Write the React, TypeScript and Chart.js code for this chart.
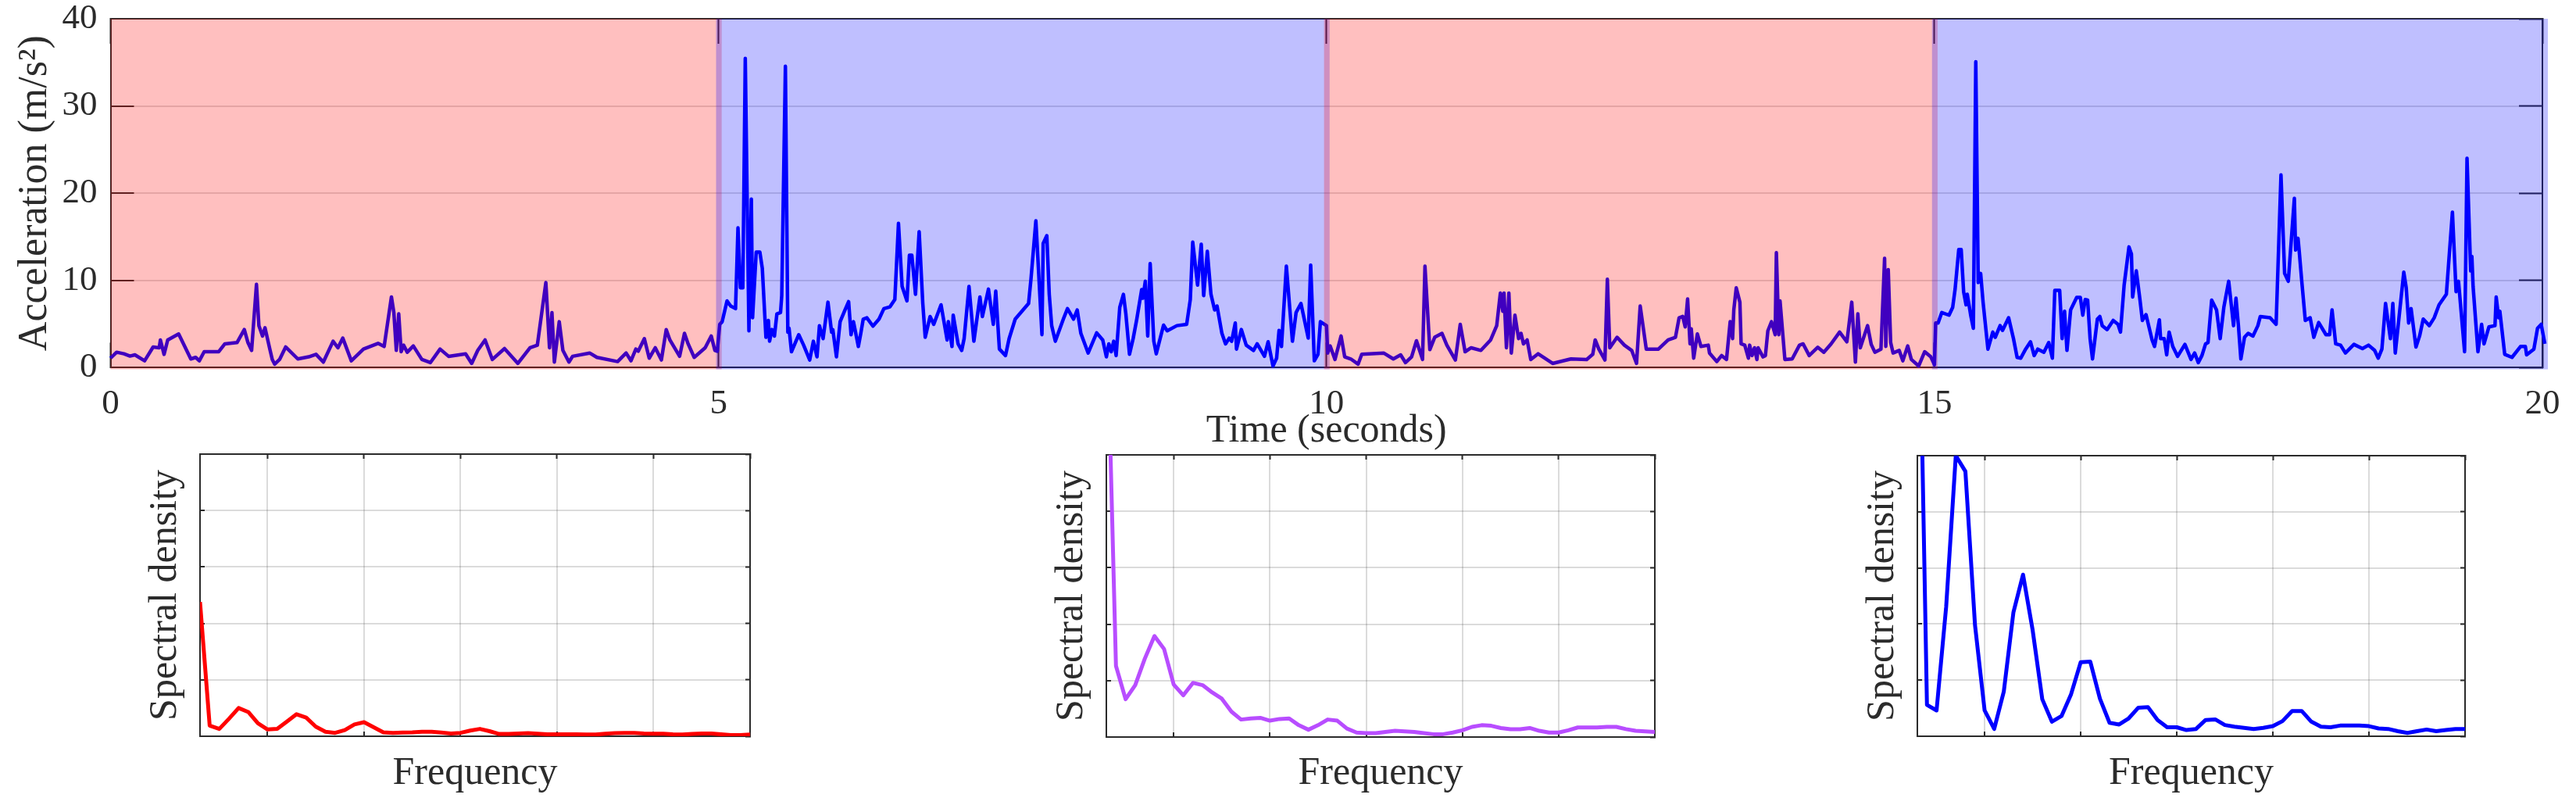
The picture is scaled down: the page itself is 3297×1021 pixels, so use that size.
// App.tsx - acceleration trace with spectral density panels
import React, { useEffect, useRef } from 'react';
import { Chart, registerables } from 'chart.js';

Chart.register(...registerables);

// acceleration trace, one pair of arrays per 5 s window
const time0to5 = [0, .05, .11, .16, .2, .28, .35, .4, .41, .44, .47, .56, .66, .7, .73, .77, .89, .94, 1.04, 1.1, 1.13, 1.16, 1.2, 1.22, 1.25, 1.27, 1.31, 1.33, 1.35, 1.39, 1.44, 1.54, 1.63, 1.69, 1.75, 1.83, 1.87, 1.91, 1.98, 2.08, 2.2, 2.25, 2.31, 2.33, 2.35, 2.37, 2.39, 2.41, 2.44, 2.49, 2.56, 2.63, 2.71, 2.78, 2.92, 2.97, 3.02, 3.08, 3.14, 3.24, 3.35, 3.45, 3.51, 3.58, 3.61, 3.63, 3.65, 3.69, 3.72, 3.77, 3.8, 3.94, 4, 4.17, 4.24, 4.28, 4.32, 4.34, 4.39, 4.43, 4.48, 4.53, 4.57, 4.6, 4.68, 4.72, 4.75, 4.8, 4.89, 4.94, 4.97, 4.99];
const accel0to5 = [1.08, 1.76, 1.58, 1.32, 1.46, .78, 2.36, 2.27, 3.17, 1.52, 3.17, 3.86, .99, 1.17, .78, 1.82, 1.82, 2.72, 2.87, 4.36, 2.87, 1.97, 9.54, 4.81, 3.62, 4.57, 2.12, .93, .39, .93, 2.36, .99, 1.23, 1.52, .63, 3.02, 2.27, 3.38, .78, 2.12, 2.78, 2.42, 8.1, 6.31, 1.97, 6.16, 1.82, 2.57, 1.76, 2.48, .93, .57, 2.12, 1.29, 1.58, .48, 1.97, 3.17, .93, 2.18, .48, 2.27, 2.57, 9.75, 2.27, 6.31, .63, 5.26, 1.97, .63, 1.29, 1.67, 1.17, .69, 1.67, .78, 2.12, 1.88, 3.32, 1.08, 2.27, .87, 4.36, 3.17, 1.29, 3.92, 2.72, 1.17, 2.27, 3.62, 1.97, 1.88];
const time5to10 = [5.01, 5.03, 5.07, 5.1, 5.14, 5.16, 5.18, 5.2, 5.22, 5.25, 5.27, 5.28, 5.31, 5.34, 5.36, 5.39, 5.41, 5.42, 5.44, 5.46, 5.48, 5.51, 5.52, 5.55, 5.57, 5.58, 5.6, 5.66, 5.7, 5.75, 5.78, 5.81, 5.83, 5.86, 5.9, 5.93, 5.94, 5.97, 6, 6.04, 6.07, 6.09, 6.11, 6.15, 6.17, 6.19, 6.22, 6.27, 6.32, 6.36, 6.41, 6.45, 6.48, 6.51, 6.55, 6.57, 6.59, 6.62, 6.65, 6.68, 6.7, 6.74, 6.77, 6.83, 6.88, 6.89, 6.92, 6.93, 6.97, 7, 7.02, 7.06, 7.1, 7.15, 7.17, 7.22, 7.26, 7.28, 7.31, 7.36, 7.39, 7.44, 7.55, 7.57, 7.61, 7.66, 7.67, 7.7, 7.72, 7.74, 7.77, 7.84, 7.87, 7.92, 7.95, 7.98, 8.04, 8.11, 8.16, 8.19, 8.21, 8.23, 8.25, 8.27, 8.3, 8.33, 8.35, 8.38, 8.41, 8.44, 8.48, 8.49, 8.51, 8.53, 8.55, 8.58, 8.6, 8.66, 8.69, 8.77, 8.85, 8.88, 8.9, 8.94, 8.97, 8.99, 9.02, 9.05, 9.08, 9.1, 9.14, 9.17, 9.2, 9.22, 9.25, 9.26, 9.3, 9.34, 9.4, 9.43, 9.49, 9.52, 9.56, 9.59, 9.61, 9.63, 9.67, 9.72, 9.75, 9.79, 9.85, 9.87, 9.9, 9.93, 9.95, 10];
const accel5to10 = [4.96, 5.26, 7.65, 7.06, 6.76, 16.02, 9.15, 9.15, 35.46, 4.22, 19.31, 5.71, 13.24, 13.24, 11.39, 3.47, 5.41, 3.02, 4.36, 3.62, 6.16, 6.31, 8.25, 34.56, 4.07, 4.51, 1.82, 3.77, 2.57, .87, 3.02, 1.23, 4.81, 3.32, 7.5, 4.07, 4.36, 1.23, 5.26, 6.61, 7.56, 3.77, 5.26, 2.42, 3.92, 5.56, 5.71, 4.75, 5.56, 6.76, 6.97, 7.8, 16.53, 9.3, 7.65, 12.88, 12.88, 8.4, 15.58, 7.35, 3.47, 5.86, 4.96, 7.2, 3.17, 5.26, 2.42, 6.01, 2.72, 1.97, 3.32, 9.3, 3.02, 8.1, 5.86, 9, 4.96, 8.76, 2.12, 1.38, 3.32, 5.56, 7.35, 10.19, 16.83, 3.77, 14.23, 15.13, 8.4, 4.81, 3.02, 5.71, 6.76, 5.56, 6.61, 3.92, 1.67, 3.98, 3.17, 1.23, 2.72, 1.82, 3.02, 1.38, 6.91, 8.4, 6.16, 1.52, 3.32, 5.56, 8.94, 7.95, 9.9, 3.62, 11.93, 3.02, 1.58, 4.87, 4.22, 4.81, 4.96, 7.8, 14.38, 9.45, 14.14, 8.25, 13.33, 8.4, 6.61, 7.06, 3.92, 2.72, 3.38, 3.02, 5.11, 2.12, 4.36, 2.57, 1.97, 2.72, 1.29, 2.96, .18, 1.08, 4.27, 2.42, 11.63, 3.02, 6.31, 7.35, 3.38, 11.75, .78, 1.52, 5.26, 4.81];
const time10to15 = [10.01, 10.03, 10.07, 10.12, 10.15, 10.2, 10.26, 10.29, 10.47, 10.55, 10.61, 10.65, 10.7, 10.74, 10.79, 10.81, 10.85, 10.89, 10.95, 10.99, 11.06, 11.1, 11.14, 11.19, 11.27, 11.35, 11.4, 11.43, 11.45, 11.46, 11.48, 11.5, 11.52, 11.55, 11.58, 11.6, 11.62, 11.65, 11.68, 11.74, 11.86, 12.01, 12.14, 12.19, 12.21, 12.24, 12.29, 12.31, 12.33, 12.39, 12.45, 12.51, 12.55, 12.58, 12.63, 12.73, 12.81, 12.87, 12.9, 12.93, 12.95, 12.97, 12.99, 13, 13.02, 13.05, 13.08, 13.14, 13.15, 13.21, 13.25, 13.29, 13.32, 13.34, 13.35, 13.37, 13.4, 13.41, 13.44, 13.47, 13.48, 13.5, 13.52, 13.54, 13.55, 13.59, 13.61, 13.63, 13.66, 13.69, 13.7, 13.72, 13.73, 13.77, 13.83, 13.89, 13.92, 13.97, 14.04, 14.09, 14.15, 14.22, 14.28, 14.32, 14.35, 14.37, 14.39, 14.45, 14.48, 14.51, 14.56, 14.59, 14.6, 14.62, 14.64, 14.66, 14.71, 14.74, 14.78, 14.81, 14.87, 14.92, 14.97, 15];
const accel10to15 = [1.67, 2.48, .93, 3.62, 1.23, .99, .39, 1.52, 1.67, .99, 1.46, .57, 1.23, 3.08, .93, 11.63, 2.06, 3.47, 3.92, 2.57, .87, 4.96, 1.82, 2.27, 1.97, 3.17, 4.81, 8.55, 6.46, 8.55, 2.27, 8.55, 1.67, 6.01, 3.32, 3.92, 2.72, 3.17, .93, 1.58, .48, .99, .93, 1.52, 3.17, 2.12, .87, 10.13, 2.27, 3.47, 2.57, 1.97, .48, 7.06, 2.12, 2.12, 3.17, 3.47, 5.71, 5.86, 4.66, 7.86, 2.72, 4.45, 1.08, 3.86, 2.42, 2.57, 1.67, .69, 1.38, .93, 5.26, 3.32, 6.61, 9.15, 7.5, 2.72, 2.57, 1.08, 2.57, 1.38, 2.27, .93, 2.27, 1.23, 1.38, 4.22, 5.26, 3.77, 13.18, 3.77, 7.65, .93, .99, 2.57, 2.72, 1.38, 2.33, 1.76, 2.72, 4.07, 2.96, 7.5, .63, 6.16, 2.27, 4.81, 2.66, 1.76, 2.12, 12.53, 2.42, 11.24, 2.87, 1.67, 1.97, .78, 2.48, .93, .18, 1.82, 1.23, .33];
const time15to20 = [15.01, 15.03, 15.06, 15.12, 15.15, 15.17, 15.2, 15.22, 15.24, 15.26, 15.27, 15.3, 15.32, 15.34, 15.36, 15.38, 15.4, 15.44, 15.48, 15.5, 15.54, 15.56, 15.61, 15.65, 15.68, 15.71, 15.75, 15.79, 15.82, 15.85, 15.9, 15.94, 15.97, 15.99, 16.03, 16.05, 16.07, 16.09, 16.12, 16.17, 16.2, 16.22, 16.24, 16.26, 16.28, 16.3, 16.34, 16.36, 16.38, 16.42, 16.47, 16.51, 16.53, 16.56, 16.6, 16.62, 16.63, 16.66, 16.69, 16.71, 16.74, 16.79, 16.81, 16.85, 16.86, 16.89, 16.91, 16.93, 16.96, 17, 17.06, 17.11, 17.14, 17.17, 17.2, 17.23, 17.25, 17.28, 17.32, 17.35, 17.38, 17.42, 17.46, 17.48, 17.5, 17.52, 17.55, 17.58, 17.62, 17.66, 17.68, 17.76, 17.81, 17.85, 17.88, 17.91, 17.96, 17.97, 17.99, 18, 18.02, 18.05, 18.09, 18.12, 18.16, 18.22, 18.25, 18.27, 18.3, 18.34, 18.38, 18.45, 18.52, 18.57, 18.62, 18.65, 18.68, 18.71, 18.75, 18.77, 18.79, 18.86, 18.88, 18.9, 18.92, 18.96, 18.99, 19.02, 19.07, 19.11, 19.15, 19.21, 19.26, 19.29, 19.31, 19.36, 19.38, 19.41, 19.42, 19.43, 19.47, 19.5, 19.52, 19.56, 19.61, 19.62, 19.64, 19.65, 19.69, 19.75, 19.82, 19.86, 19.87, 19.93, 19.96, 19.99, 20.02];
const accel15to20 = [5.11, 5.11, 6.31, 6.01, 6.91, 9, 13.54, 13.54, 8.7, 7.2, 8.4, 5.86, 4.51, 35.07, 9.75, 10.79, 7.5, 2.12, 4.07, 3.47, 4.81, 4.27, 5.71, 3.32, 1.17, 1.08, 2.12, 2.96, 1.38, 2.12, 1.76, 2.87, 1.08, 8.85, 8.85, 3.32, 6.46, 1.97, 6.61, 8.04, 8.04, 6.01, 7.8, 7.74, 3.32, .99, 5.56, 5.86, 4.81, 4.36, 5.41, 4.96, 4.07, 9.45, 13.84, 13.03, 8.1, 11.09, 7.8, 5.41, 6.07, 3.17, 2.42, 5.47, 3.32, 3.32, 1.46, 4.07, 2.42, 1.29, 2.66, .93, 1.67, .57, 1.38, 2.72, 2.87, 7.74, 6.61, 3.32, 6.91, 9.9, 4.81, 7.95, 4.81, .99, 3.47, 3.92, 3.62, 4.81, 5.86, 5.71, 4.96, 22.09, 10.79, 9.9, 19.4, 13.48, 14.83, 13.33, 10.04, 5.41, 5.71, 3.47, 5.17, 3.77, 3.77, 6.61, 2.72, 2.57, 1.67, 2.66, 2.18, 2.57, 1.97, 1.08, 2.12, 7.35, 3.32, 7.35, 1.67, 10.94, 9.15, 5.11, 6.76, 2.36, 3.62, 5.56, 4.81, 5.71, 7.2, 8.4, 17.82, 8.7, 9.9, 1.82, 24.01, 11.09, 12.74, 9.3, 1.82, 4.96, 2.72, 4.66, 4.81, 8.1, 5.71, 6.46, 1.52, 1.17, 2.42, 2.42, 1.46, 2.12, 4.51, 4.96, 2.72];

const accelTime = [...time0to5, ...time5to10, ...time10to15, ...time15to20];
const accelValue = [...accel0to5, ...accel5to10, ...accel10to15, ...accel15to20];

// shaded windows on the trace (they overlap a little at each change)
const bandStart = [0, 4.98, 9.98, 14.98];
const bandEnd = [5.026, 10.026, 15.026, 20.045];
const bandColor = ['rgba(255,0,0,0.25)', 'rgba(0,0,255,0.25)', 'rgba(255,0,0,0.25)', 'rgba(0,0,255,0.25)'];

// spectra, arbitrary units, frequency bins 3 to 60
const bins = [3, 4, 5, 6, 7, 8, 9, 10, 11, 12, 13, 14, 15, 16, 17, 18, 19, 20, 21, 22, 23, 24, 25, 26, 27, 28, 29, 30, 31, 32, 33, 34, 35, 36, 37, 38, 39, 40, 41, 42, 43, 44, 45, 46, 47, 48, 49, 50, 51, 52, 53, 54, 55, 56, 57, 58, 59, 60];
const spectrumRed = [2.38, .19, .13, .31, .5, .43, .23, .12, .13, .26, .39, .33, .17, .08, .06, .11, .21, .25, .16, .07, .06, .065, .07, .08, .08, .065, .05, .06, .1, .13, .09, .04, .04, .05, .055, .045, .035, .035, .035, .035, .03, .03, .045, .055, .06, .06, .05, .045, .045, .035, .03, .04, .05, .05, .035, .02, .02, .03];
const spectrumPurple = [7.88, 1.26, .67, .92, 1.39, 1.79, 1.56, .93, .74, .96, .92, .79, .68, .45, .31, .33, .34, .29, .32, .33, .21, .13, .21, .31, .29, .15, .08, .07, .07, .09, .11, .1, .09, .07, .05, .05, .08, .12, .18, .21, .2, .16, .14, .14, .16, .11, .08, .08, .12, .17, .17, .17, .18, .18, .14, .11, .1, .09];
const spectrumBlue = [9.85, .56, .46, 2.31, 5, 4.72, 1.98, .46, .13, .8, 2.21, 2.88, 1.89, .66, .26, .36, .75, 1.32, 1.33, .67, .24, .21, .32, .51, .52, .29, .16, .16, .11, .13, .29, .3, .2, .17, .15, .13, .15, .18, .27, .45, .45, .26, .17, .16, .19, .19, .19, .18, .14, .13, .09, .06, .09, .12, .09, .11, .13, .13];

const FONT = '"Liberation Serif", "Times New Roman", serif';
const INK = '#2b2b2b';
const GRID = 'rgba(0,0,0,0.14)';

// draws the shading over the trace, so the line picks up the band colour
const bandPlugin = {
  id: 'bands',
  afterDatasetsDraw(chart: any) {
    const { ctx, scales } = chart;
    const top = scales.y.getPixelForValue(40);
    const bottom = scales.y.getPixelForValue(-0.2);
    ctx.save();
    bandStart.forEach((start, i) => {
      const x0 = scales.x.getPixelForValue(start);
      const x1 = scales.x.getPixelForValue(bandEnd[i]);
      ctx.fillStyle = bandColor[i];
      ctx.fillRect(x0, top, x1 - x0, bottom - top);
    });
    ctx.restore();
  },
};

// fix the axis box so the plot area lands where the layout says, no label overhang
const fixBox = (s: any, size: number) => {
  if (s.isHorizontal()) s.height = size;
  else s.width = size;
  s.paddingLeft = 0;
  s.paddingRight = 0;
  s.paddingTop = 0;
  s.paddingBottom = 0;
};

// axis opposite the labelled one: only border and inward ticks
const mirrorAxis = (axis: 'x' | 'y', position: string, min: number, max: number, step: number, tick: number) => ({
  type: 'linear',
  axis,
  position,
  min,
  max,
  ticks: { display: false, stepSize: step, includeBounds: false, autoSkip: false },
  grid: { drawOnChartArea: false, tickLength: -tick, tickColor: INK, tickWidth: 2 },
  border: { color: INK, width: 2 },
  afterFit: (s: any) => fixBox(s, 0),
});

const AccelerationChart: React.FC = () => {
  const canvasRef = useRef<HTMLCanvasElement | null>(null);

  useEffect(() => {
    if (!canvasRef.current) return;

    const chart = new Chart(canvasRef.current, {
      type: 'line',
      data: {
        labels: accelTime,
        datasets: [{
          data: accelValue,
          borderColor: '#0000ff',
          borderWidth: 4.5,
          borderJoinStyle: 'round',
          pointRadius: 0,
          tension: 0,
          clip: false,
        }],
      },
      options: {
        animation: false,
        responsive: false,
        devicePixelRatio: 1,
        layout: { padding: { left: 0, right: 43, top: 24, bottom: 0 } },
        plugins: { legend: { display: false }, tooltip: { enabled: false } },
        scales: {
          x: {
            type: 'linear',
            min: 0,
            max: 20,
            ticks: { stepSize: 5, padding: 52, color: INK, font: { family: FONT, size: 45 }, maxRotation: 0, autoSkip: false },
            grid: { drawOnChartArea: false, tickLength: -32, tickColor: INK, tickWidth: 2 },
            border: { color: INK, width: 2 },
            title: { display: true, text: 'Time (seconds)', color: INK, font: { family: FONT, size: 50 }, padding: { top: 0, bottom: 8 } },
            afterFit: (s: any) => fixBox(s, 119.7),
          },
          y: {
            type: 'linear',
            min: 0,
            max: 40,
            ticks: { stepSize: 10, padding: 47, color: INK, font: { family: FONT, size: 45 } },
            grid: { color: GRID, lineWidth: 2, tickLength: -30, tickColor: INK, tickWidth: 2 },
            border: { color: INK, width: 2 },
            title: { display: true, text: 'Acceleration (m/s²)', color: INK, font: { family: FONT, size: 52 }, padding: { top: 14, bottom: 0 } },
            afterFit: (s: any) => fixBox(s, 141.5),
          },
          xTop: mirrorAxis('x', 'top', 0, 20, 5, 32),
          yRight: mirrorAxis('y', 'right', 0, 40, 10, 30),
        },
      } as any,
      plugins: [bandPlugin],
    });

    return () => {
      chart.destroy();
    };
  }, []);

  return (
    <canvas
      ref={canvasRef}
      width={3297}
      height={590}
      style={{ position: 'absolute', left: 0, top: 0, display: 'block' }}
    />
  );
};

interface SpectrumProps {
  values: number[];
  color: string;
  left: number;
  right: number;
  top: number;
  bottom: number;
}

const CANVAS_TOP = 570;
const CANVAS_HEIGHT = 451;

const SpectrumChart: React.FC<SpectrumProps> = ({ values, color, left, right, top, bottom }) => {
  const canvasRef = useRef<HTMLCanvasElement | null>(null);
  const canvasLeft = left - 86;
  const canvasWidth = right - canvasLeft + 30;

  useEffect(() => {
    if (!canvasRef.current) return;

    const chart = new Chart(canvasRef.current, {
      type: 'line',
      data: {
        labels: bins,
        datasets: [{
          data: values,
          borderColor: color,
          borderWidth: 5,
          borderJoinStyle: 'round',
          pointRadius: 0,
          tension: 0,
        }],
      },
      options: {
        animation: false,
        responsive: false,
        devicePixelRatio: 1,
        layout: { padding: { left: 0, right: 30, top: top - CANVAS_TOP, bottom: 0 } },
        plugins: { legend: { display: false }, tooltip: { enabled: false } },
        scales: {
          x: {
            type: 'linear',
            min: 3,
            max: 60,
            ticks: { display: false, stepSize: 10, includeBounds: false, autoSkip: false },
            grid: { color: GRID, lineWidth: 2, tickLength: -6, tickColor: INK, tickWidth: 2 },
            border: { color: INK, width: 2 },
            title: { display: true, text: 'Frequency', color: INK, font: { family: FONT, size: 50 }, padding: { top: 0, bottom: 1 } },
            afterFit: (s: any) => fixBox(s, CANVAS_TOP + CANVAS_HEIGHT - bottom),
          },
          y: {
            type: 'linear',
            min: 0,
            max: 5,
            ticks: { display: false, stepSize: 1 },
            grid: { color: GRID, lineWidth: 2, tickLength: -6, tickColor: INK, tickWidth: 2 },
            border: { color: INK, width: 2 },
            title: { display: true, text: 'Spectral density', color: INK, font: { family: FONT, size: 50 }, padding: { top: 12, bottom: 0 } },
            afterFit: (s: any) => fixBox(s, 86),
          },
          xTop: mirrorAxis('x', 'top', 3, 60, 10, 6),
          yRight: mirrorAxis('y', 'right', 0, 5, 1, 6),
        },
      } as any,
    });

    return () => {
      chart.destroy();
    };
  }, [values, color, top, bottom]);

  return (
    <canvas
      ref={canvasRef}
      width={canvasWidth}
      height={CANVAS_HEIGHT}
      style={{ position: 'absolute', left: canvasLeft, top: CANVAS_TOP, display: 'block' }}
    />
  );
};

const App: React.FC = () => (
  <div style={{ position: 'fixed', left: 0, top: 0, width: 3297, height: 1021, background: '#fff', overflow: 'hidden' }}>
    <AccelerationChart />
    <SpectrumChart values={spectrumRed} color="#ff0000" left={256} right={960} top={581} bottom={942} />
    <SpectrumChart values={spectrumPurple} color="#b84dff" left={1416} right={2118} top={582} bottom={943} />
    <SpectrumChart values={spectrumBlue} color="#0000ff" left={2454} right={3155} top={583} bottom={942} />
  </div>
);

export default App;
